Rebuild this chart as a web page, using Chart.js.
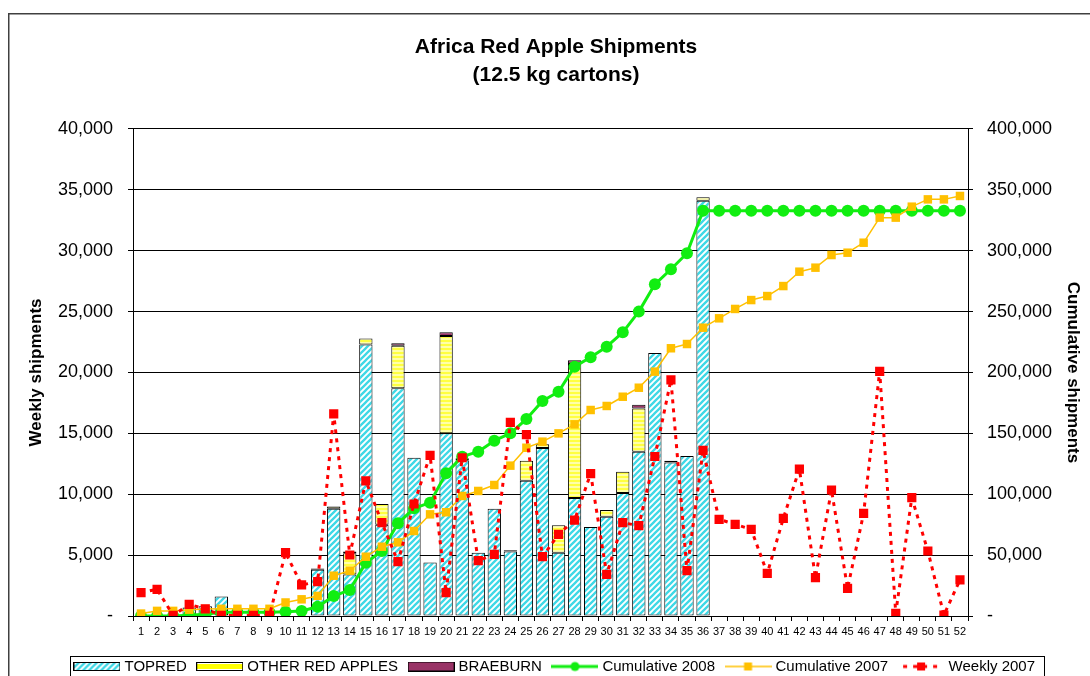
<!DOCTYPE html>
<html>
<head>
<meta charset="utf-8">
<script src="https://cdn.jsdelivr.net/npm/chart.js@4.4.1/dist/chart.umd.min.js"></script>
<style>
  html, body { margin: 0; padding: 0; background: #fff; overflow: hidden; }
  #wrap { width: 1090px; height: 676px; overflow: hidden; }
</style>
</head>
<body>
<div id="wrap"><canvas id="c" width="1090" height="684"></canvas></div>
<script>
// ---------------- DATA ----------------
const weeks = Array.from({length: 52}, (_, i) => String(i + 1));

const topred = [null, null, null, 700, 800, 1600, null, null, null, null, null,
  3800, 8800, 3400, 22300, 7500, 18700, 13000, 4400, 15000, 12800, 5200, 8800, 5300,
  11100, 13800, 5200, 9700, 7300, 8150, 10100, 13500, 21600, 12600, 13150, 34100,
  null, null, null, null, null, null, null, null, null, null, null, null, null, null, null, null];

const otherRed = [null, null, null, null, null, null, null, null, null, null, null,
  100, 200, 1750, 500, 1700, 3500, null, null, 8000, 150, null, null, null,
  1650, 300, 2250, 11000, null, 550, 1750, 3550, null, null, null, 300,
  null, null, null, null, null, null, null, null, null, null, null, null, null, null, null, null];

const braeburn = [null, null, null, null, null, null, null, null, null, null, null,
  null, null, 150, null, null, 200, null, null, 300, null, null, null, 100,
  null, null, null, 300, null, null, null, 300, null, 150, null, null,
  null, null, null, null, null, null, null, null, null, null, null, null, null, null, null, null];

const cum2008 = [0, 0, 0, 700, 1500, 3100, 3100, 3100, 3100, 3500, 4100,
  7600, 16400, 21400, 43800, 53400, 76100, 88400, 93100, 117200, 130900, 135000, 144000, 150000,
  161800, 176600, 184200, 204800, 212500, 221200, 233000, 250000, 272400, 284800, 297900, 332900,
  332900, 332900, 332900, 332900, 332900, 332900, 332900, 332900, 332900, 332900, 332900, 332900,
  332900, 332900, 332900, 332900];

const cum2007 = [2000, 4200, 4200, 5200, 5800, 5900, 5900, 5900, 5900, 11100, 13700,
  16500, 33100, 37200, 48700, 56900, 60500, 69800, 83500, 85200, 98600, 102700, 107600, 123500,
  138200, 143200, 150000, 157400, 169200, 172500, 180100, 187500, 200700, 219900, 223400, 236800,
  244500, 252200, 259500, 262800, 271000, 282800, 286100, 296500, 298400, 306600, 327200, 327200,
  336200, 342200, 342200, 345000];

const weekly2007 = [1920, 2190, 50, 960, 580, 50, 50, 50, 50, 5200, 2550,
  2820, 16600, 5010, 11100, 7670, 4460, 9200, 13200, 1920, 13000, 4550, 5060, 15900,
  14900, 4870, 6710, 7880, 11700, 3420, 7670, 7420, 13100, 19400, 3720, 13600,
  7940, 7530, 7120, 3500, 8020, 12070, 3150, 10350, 2270, 8430, 20100, 220,
  9720, 5340, 80, 2960];

const seriesNames = ['TOPRED', 'OTHER RED APPLES', 'BRAEBURN', 'Cumulative 2008', 'Cumulative 2007', 'Weekly 2007'];
const chartTitle = ['Africa Red Apple Shipments', '(12.5 kg cartons)'];
const leftTitle = 'Weekly shipments';
const rightTitle = 'Cumulative shipments';

// ---------------- STYLES ----------------
const FONT = "'Liberation Sans', Arial, Helvetica, sans-serif";
const CYAN = '#3ED8E6';
const YEL = '#FFFF00';
const YEL_LIGHT = '#FFFFA8';
const MAROON = '#993366';
const GREEN = '#11EE11';
const ORANGE = '#FFC000';
const RED = '#FF0000';

function hatchCanvas() {
  const c = document.createElement('canvas'); c.width = 6; c.height = 6;
  const x = c.getContext('2d');
  x.fillStyle = '#fff'; x.fillRect(0, 0, 6, 6);
  x.strokeStyle = CYAN; x.lineWidth = 2.3;
  x.beginPath();
  x.moveTo(-1, 7); x.lineTo(7, -1);
  x.moveTo(-4, 4); x.lineTo(4, -4);
  x.moveTo(2, 10); x.lineTo(10, 2);
  x.stroke();
  return c;
}
function makeYellow() {
  const c = document.createElement('canvas'); c.width = 4; c.height = 4;
  const x = c.getContext('2d');
  x.fillStyle = YEL_LIGHT; x.fillRect(0, 0, 4, 4);
  x.fillStyle = '#FFFF40'; x.fillRect(0, 0, 4, 2);
  return x.createPattern(c, 'repeat');
}
const baseCtx = document.createElement('canvas').getContext('2d');
const hatch = baseCtx.createPattern(hatchCanvas(), 'repeat');
const yellowFill = makeYellow();

function icon(draw, w, h) {
  const c = document.createElement('canvas'); c.width = w; c.height = h;
  draw(c.getContext('2d'), w, h);
  return c;
}
const icons = [
  icon((x, w, h) => { x.fillStyle = x.createPattern(hatchCanvas(), 'repeat'); x.fillRect(1, 1, w - 2, h - 2); x.strokeStyle = '#000'; x.lineWidth = 1; x.strokeRect(0.5, 0.5, w - 1, h - 1); }, 47, 9),
  icon((x, w, h) => { x.fillStyle = '#fff'; x.fillRect(0, 0, w, h); x.fillStyle = YEL; x.fillRect(1, 2, w - 2, h - 4); x.strokeStyle = '#000'; x.lineWidth = 1; x.strokeRect(0.5, 0.5, w - 1, h - 1); }, 47, 9),
  icon((x, w, h) => { x.fillStyle = MAROON; x.fillRect(0, 0, w, h); x.strokeStyle = '#000'; x.lineWidth = 1; x.strokeRect(0.5, 0.5, w - 1, h - 1); }, 47, 10),
  icon((x, w, h) => { x.strokeStyle = GREEN; x.lineWidth = 3; x.beginPath(); x.moveTo(0, h / 2); x.lineTo(w, h / 2); x.stroke(); x.fillStyle = GREEN; x.beginPath(); x.arc(w / 2, h / 2, 4.5, 0, Math.PI * 2); x.fill(); }, 47, 12),
  icon((x, w, h) => { x.strokeStyle = ORANGE; x.lineWidth = 1.5; x.beginPath(); x.moveTo(0, h / 2); x.lineTo(w, h / 2); x.stroke(); x.fillStyle = ORANGE; x.fillRect(w / 2 - 4, h / 2 - 4, 8, 8); }, 47, 12),
  icon((x, w, h) => { x.strokeStyle = RED; x.lineWidth = 3; x.setLineDash([4, 6]); x.beginPath(); x.moveTo(3, h / 2); x.lineTo(w, h / 2); x.stroke(); x.fillStyle = RED; x.fillRect(w / 2 - 4, h / 2 - 4, 8, 8); }, 42, 12)
];

const framePlugin = {
  id: 'frame',
  beforeDraw(chart) {
    const ctx = chart.ctx;
    ctx.save();
    ctx.fillStyle = '#fff';
    ctx.fillRect(0, 0, chart.width, chart.height);
    ctx.strokeStyle = '#404040';
    ctx.lineWidth = 1.5;
    ctx.strokeRect(8.75, 13.75, 3000, 3000);
    ctx.restore();
  },
  afterDraw(chart) {
    const hb = chart.legend && chart.legend.legendHitBoxes;
    if (!hb || !hb.length) return;
    const ctx = chart.ctx;
    const first = hb[0], last = hb[hb.length - 1];
    const x0 = Math.round(first.left - 7) + 0.5;
    const x1 = Math.round(last.left + last.width + 9) + 0.5;
    const y0 = Math.round(first.top - 3) + 0.5;
    const y1 = Math.round(first.top + first.height + 3) + 0.5;
    ctx.save();
    ctx.strokeStyle = '#000';
    ctx.lineWidth = 1;
    ctx.strokeRect(x0, y0, x1 - x0, y1 - y0);
    ctx.restore();
  }
};

const numFmt = v => v === 0 ? '-' : Number(v).toLocaleString('en-US');

new Chart(document.getElementById('c'), {
  type: 'bar',
  data: {
    labels: weeks,
    datasets: [
      { label: seriesNames[0], data: topred, backgroundColor: hatch, borderColor: '#000', borderWidth: 1, borderSkipped: false, yAxisID: 'y', stack: 'bars', order: 3 },
      { label: seriesNames[1], data: otherRed, backgroundColor: yellowFill, borderColor: '#000', borderWidth: 1, borderSkipped: false, yAxisID: 'y', stack: 'bars', order: 3 },
      { label: seriesNames[2], data: braeburn, backgroundColor: MAROON, borderColor: '#000', borderWidth: 1, borderSkipped: false, yAxisID: 'y', stack: 'bars', order: 3 },
      { type: 'line', label: seriesNames[3], data: cum2008, yAxisID: 'y1', borderColor: GREEN, backgroundColor: GREEN, borderWidth: 3, borderJoinStyle: 'round', pointStyle: 'circle', pointRadius: 6, pointBorderWidth: 0, pointBackgroundColor: GREEN, tension: 0, order: 2 },
      { type: 'line', label: seriesNames[4], data: cum2007, yAxisID: 'y1', borderColor: ORANGE, backgroundColor: ORANGE, borderWidth: 1.5, borderJoinStyle: 'round', pointStyle: 'rect', pointRadius: 6, pointBorderWidth: 0, pointBackgroundColor: ORANGE, tension: 0, order: 1 },
      { type: 'line', label: seriesNames[5], data: weekly2007, yAxisID: 'y', stack: 'w2007', borderColor: RED, backgroundColor: RED, borderWidth: 3, borderDash: [4, 5], borderJoinStyle: 'round', pointStyle: 'rect', pointRadius: 6.5, pointBorderWidth: 0, pointBackgroundColor: RED, tension: 0, order: 0 }
    ]
  },
  options: {
    responsive: false,
    animation: false,
    layout: { padding: { left: 22, right: 0, top: 0, bottom: 0 } },
    datasets: { bar: { categoryPercentage: 0.83, barPercentage: 1 } },
    plugins: {
      tooltip: { enabled: false },
      title: {
        display: true,
        text: chartTitle,
        color: '#000',
        font: { family: FONT, size: 21, weight: 'bold', lineHeight: 1.3333 },
        padding: { top: 33.5, bottom: 39.5 }
      },
      legend: {
        position: 'bottom',
        labels: {
          color: '#000',
          font: { family: FONT, size: 15 },
          usePointStyle: true,
          pointStyleWidth: 40,
          padding: 13,
          generateLabels: () => seriesNames.map((t, i) => ({
            text: t, pointStyle: icons[i], fillStyle: 'rgba(0,0,0,0)', strokeStyle: 'rgba(0,0,0,0)',
            lineWidth: 0, hidden: false, datasetIndex: i, fontColor: '#000'
          }))
        }
      }
    },
    scales: {
      x: {
        type: 'category',
        stacked: true,
        afterFit: s => { s.height = 30; },
        grid: { display: true, drawOnChartArea: false, drawTicks: true, tickLength: 5, color: '#000', offset: true },
        border: { display: true, color: '#000', width: 1 },
        ticks: { color: '#000', font: { family: FONT, size: 11 }, padding: 4, autoSkip: false, maxRotation: 0, minRotation: 0 }
      },
      y: {
        position: 'left',
        stacked: true,
        min: 0, max: 40000,
        afterFit: s => { s.width = 111; },
        grid: { color: '#000', lineWidth: 1, drawTicks: true, tickLength: 5 },
        border: { display: true, color: '#000', width: 1 },
        ticks: { stepSize: 5000, color: '#000', font: { family: FONT, size: 18 }, padding: 15, callback: numFmt },
        title: { display: true, text: leftTitle, color: '#000', font: { family: FONT, size: 17, weight: 'bold' }, padding: { top: 4, bottom: 0 } }
      },
      y1: {
        position: 'right',
        min: 0, max: 400000,
        afterFit: s => { s.width = 122; },
        grid: { drawOnChartArea: false, color: '#000', drawTicks: true, tickLength: 5 },
        border: { display: true, color: '#000', width: 1 },
        ticks: { stepSize: 50000, color: '#000', font: { family: FONT, size: 18 }, padding: 14, callback: numFmt },
        title: { display: true, text: rightTitle, color: '#000', font: { family: FONT, size: 17, weight: 'bold' }, padding: { top: 7, bottom: 0 } }
      }
    }
  },
  plugins: [framePlugin]
});
</script>
</body>
</html>
